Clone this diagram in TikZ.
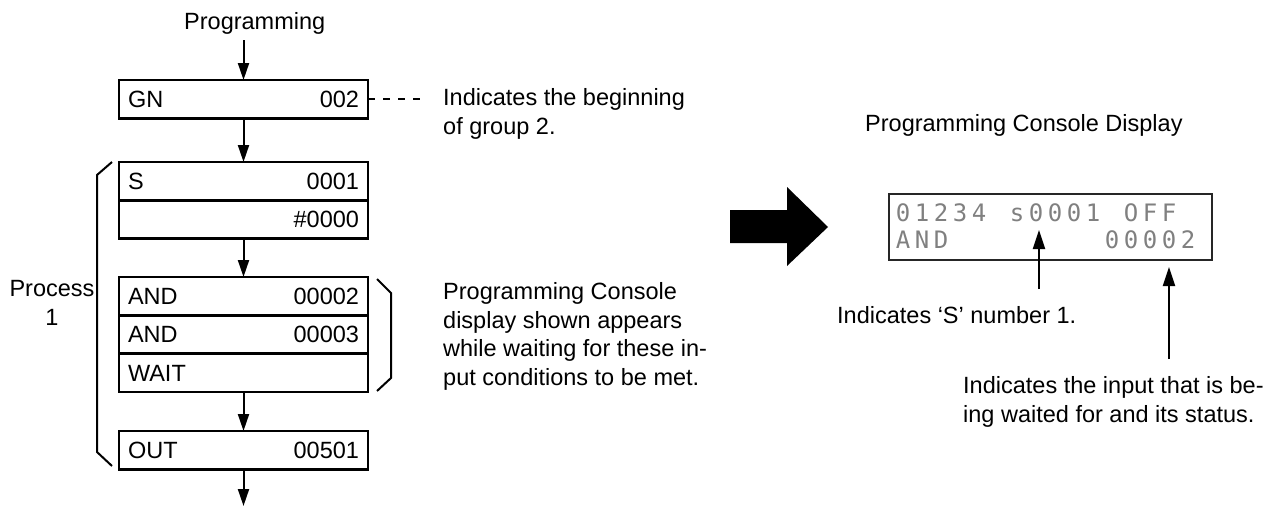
\documentclass[tikz,border=0pt]{standalone}
\usepackage{fontspec}
\setmainfont{Liberation Sans}
\newfontfamily\lcdfont{DejaVu Sans Mono}
\usetikzlibrary{arrows.meta}
\begin{document}
\begin{tikzpicture}[x=1pt,y=-1pt,
  every node/.style={font=\fontsize{23.5}{28.7}\selectfont, inner sep=0pt},
  row/.style={draw, line width=2.4pt, outer sep=0pt, minimum width=249pt, minimum height=38.3pt,
    text width=231pt, align=left, inner xsep=9pt, text height=17pt, text depth=0pt},
  arr/.style={line width=2pt, -{Triangle[length=17pt,width=11pt]}},
  arrtwo/.style={line width=2pt, -{Triangle[length=19pt,width=12pt]}},
  bracketline/.style={line width=2pt},
  lcd/.style={font=\lcdfont\fontsize{24}{24}\selectfont, text=black!50, anchor=base},
  txt/.style={anchor=base west, align=left}
]
\useasboundingbox (0,0) rectangle (1281,506);

% left flow
\node[anchor=base west] (prog) at (184,29.5) {Programming};
\coordinate (ptop) at (243.5,40);
\node[row, anchor=north] (gn) at (243.5,80) {GN\hfill 002};
\node[row, anchor=north] (s) at (243.5,162) {S\hfill 0001};
\node[row, anchor=north] (s2) at (s.south) {\hfill \#0000};
\node[row, anchor=north] (and1) at (243.5,277) {AND\hfill 00002};
\node[row, anchor=north] (and2) at (and1.south) {AND\hfill 00003};
\node[row, anchor=north] (wait) at (and2.south) {WAIT\hfill};
\node[row, anchor=north] (out) at (243.5,431) {OUT\hfill 00501};
\coordinate (bend) at (243.5,506);

\draw[arr] (ptop) -- (gn.north);
\draw[arr] (gn.south) -- (s.north);
\draw[arr] (s2.south) -- (and1.north);
\draw[arr] (wait.south) -- (out.north);
\draw[arr] (out.south) -- (bend);

% dashed leader
\draw[line width=2pt, dash pattern=on 7pt off 8pt] (gn.east) -- +(52,0);
\node[txt] (grp) at (443,134) {Indicates the beginning\\of group 2.};

% process bracket
\draw[bracketline] (112,162) -- (97,175) -- (97,452) -- (112,466);
\node[anchor=base, align=center] (proc) at (52,325) {Process\\1};

% wait bracket
\draw[bracketline] (377,279) -- (391,293) -- (391,378) -- (377,391);
\node[txt] (cons) at (443,385.5) {Programming Console\\display shown appears\\while waiting for these in-\\put conditions to be met.};

% big arrow
\fill (730,210) -- (787,210) -- (787,187) -- (828,227) -- (787,266) -- (787,243) -- (730,243) -- cycle;

% display
\node[txt] (title) at (865,131) {Programming Console Display};
\node[draw=black!85, line width=2pt, minimum width=323pt, minimum height=66pt, anchor=north west] (disp) at (888,193) {};
\foreach \i/\c in {0/0,1/1,2/2,3/3,4/4,6/s,7/0,8/0,9/0,10/1,12/O,13/F,14/F}
  \node[lcd] (la\i) at (903+19*\i,221) {\c};
\foreach \i/\c in {0/A,1/N,2/D,11/0,12/0,13/0,14/0,15/2}
  \node[lcd] (lb\i) at (903+19*\i,248) {\c};

\node[txt] (snum) at (837,323) {Indicates ‘S’ number 1.};
\coordinate (sa) at (1039,230);
\coordinate (sb) at (1039,289);
\draw[arrtwo] (sb) -- (sa);

\node[txt] (inp) at (963,422) {Indicates the input that is be-\\ing waited for and its status.};
\coordinate (ia) at (1169,267);
\coordinate (ib) at (1169,359);
\draw[arrtwo] (ib) -- (ia);
\end{tikzpicture}
\end{document}
